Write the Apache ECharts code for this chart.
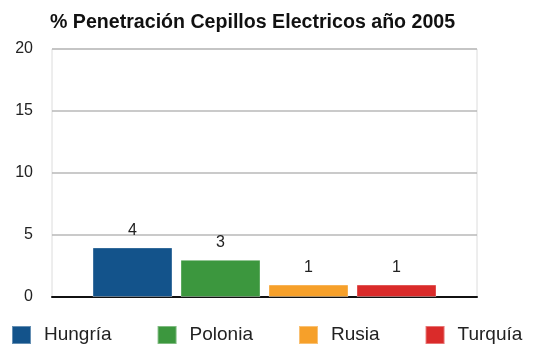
<!DOCTYPE html>
<html>
<head>
<meta charset="utf-8">
<script src="https://cdn.jsdelivr.net/npm/echarts@6/dist/echarts.min.js"></script>
<style>
  html, body { margin: 0; padding: 0; background: #fff; }
  #chart { width: 546px; height: 345px; }
</style>
</head>
<body>
<div id="chart"></div>
<script>
// Electric toothbrush penetration (%) by country, 2005
const countries = ['Hungría', 'Polonia', 'Rusia', 'Turquía'];
const penetration = [4, 3, 1, 1];
const colors = ['#13538b', '#3c973e', '#f6a02a', '#da2b2a'];
const yTicks = { min: 0, max: 20, interval: 5 };

const FONT = '"Liberation Sans", Arial, Helvetica, sans-serif';

const series = countries.map((name, i) => ({
  name: name,
  type: 'bar',
  data: [penetration[i]],
  barWidth: 80,
  barGap: '10%',
  itemStyle: { color: colors[i], borderColor: 'rgba(255,255,255,0.35)', borderWidth: 1 },
  label: {
    show: true,
    position: 'top',
    distance: 9,
    color: '#222',
    fontSize: 16,
    fontFamily: FONT
  }
}));

const chart = echarts.init(document.getElementById('chart'), null, { renderer: 'canvas' });
chart.setOption({
  animation: false,
  title: {
    text: '% Penetración Cepillos Electricos año 2005',
    left: 45,
    top: 8,
    textStyle: { fontFamily: FONT, fontWeight: 'bold', fontSize: 19.6, color: '#111' }
  },
  grid: {
    left: 52, right: 69, top: 49, bottom: 48,
    show: true, borderColor: '#dcdcdc', borderWidth: 1
  },
  legend: {
    data: countries,
    left: 6,
    top: 320,
    itemWidth: 19,
    itemHeight: 18,
    itemGap: 45,
    icon: 'rect',
    textStyle: { fontFamily: FONT, fontSize: 19, color: '#222', padding: [0, 0, 0, 8] }
  },
  xAxis: {
    type: 'category',
    data: [''],
    axisLine: { show: true, lineStyle: { color: '#111', width: 2 } },
    axisTick: { show: false },
    axisLabel: { show: false },
    splitLine: { show: false }
  },
  yAxis: {
    type: 'value',
    min: yTicks.min,
    max: yTicks.max,
    interval: yTicks.interval,
    axisLine: { show: false },
    axisTick: { show: false },
    axisLabel: { fontFamily: FONT, fontSize: 16, color: '#222', margin: 19 },
    splitLine: { lineStyle: { color: '#b8b8b8', width: 1.5 } }
  },
  series: series
});
</script>
</body>
</html>
